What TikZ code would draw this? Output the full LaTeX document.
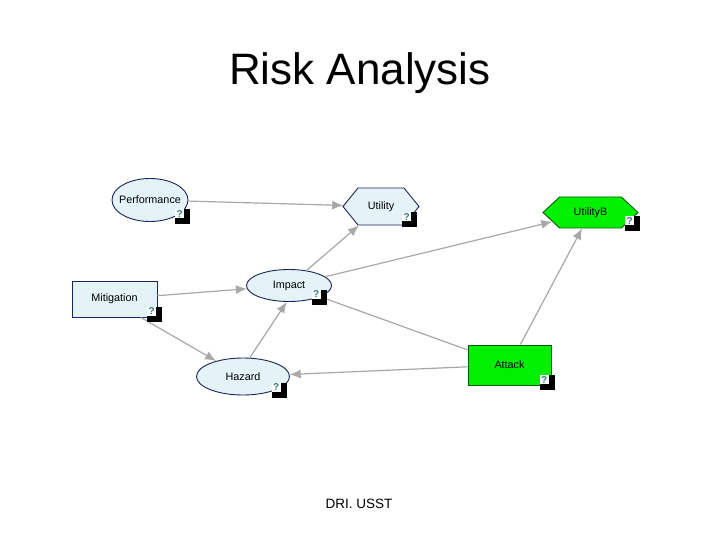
\documentclass[tikz,border=0pt]{standalone}
\usepackage{fontspec}
\setmainfont{Liberation Sans}
\usetikzlibrary{shapes.geometric,shapes.symbols,arrows.meta}
\definecolor{nodefill}{HTML}{E4F3F8}
\definecolor{nodeline}{HTML}{1A2460}
\definecolor{arr}{HTML}{A8A8A8}
\definecolor{grn}{HTML}{00F000}
\definecolor{grnline}{HTML}{0A5A0A}
\definecolor{qcol}{HTML}{2A7A8A}
\newcommand{\lb}[1]{\makebox[0pt][c]{#1}}
\begin{document}
\begin{tikzpicture}[x=1pt,y=-1pt,
  lbl/.style={font=\fontsize{10.8}{12}\selectfont, inner sep=0pt, text=black},
  chance/.style={ellipse, draw=nodeline, fill=nodefill, line width=0.9pt, lbl},
  decision/.style={rectangle, draw=nodeline, fill=nodefill, line width=0.9pt, lbl},
  utilnode/.style={signal, signal to=west and east, signal pointer angle=102, draw=nodeline, fill=nodefill, line width=0.9pt, lbl},
  greenrect/.style={rectangle, draw=grnline, fill=grn, line width=0.9pt, lbl},
  greenutil/.style={signal, signal to=west and east, signal pointer angle=86, draw=grnline, fill=grn, line width=0.9pt, lbl},
  conn/.style={draw=arr, line width=1.2pt, -{Latex[length=11pt,width=9pt]}},
  plainconn/.style={draw=arr, line width=1.2pt},
  qbox/.style={rectangle, fill=black, minimum width=15pt, minimum height=15pt, inner sep=0pt,
    path picture={\fill[white] (path picture bounding box.north west) rectangle ++(9,9);
      \node[font=\fontsize{10}{10}\selectfont\bfseries, text=qcol, inner sep=0pt] at ([shift={(4.6,4.6)}]path picture bounding box.north west) {?};}},
  title/.style={font=\fontsize{44}{50}\selectfont, inner sep=0pt, anchor=base},
  footer/.style={font=\fontsize{13.5}{15}\selectfont, inner sep=0pt, anchor=base}
]
\useasboundingbox[fill=white] (0,0) rectangle (720,540);

\node[title] (ttl) at (360,85) {Risk Analysis};
\node[footer] (ftr) at (359,508) {DRI. USST};

% nodes
\node[chance, minimum width=76pt, minimum height=43pt] (perf) at (150,200) {\lb{Performance}};
\node[utilnode, minimum width=76pt, minimum height=37pt] (util) at (381,206.5) {\lb{Utility}};
\node[greenutil, minimum width=95pt, minimum height=31pt] (utilb) at (590.5,212.5) {\lb{UtilityB}};
\node[decision, minimum width=85pt, minimum height=36pt] (mit) at (114.5,299) {\lb{Mitigation}};
\node[chance, minimum width=85pt, minimum height=32pt] (imp) at (289,285.5) {\lb{Impact}};
\node[chance, minimum width=93pt, minimum height=37pt] (haz) at (243,376.5) {\lb{Hazard}};
\node[greenrect, minimum width=83pt, minimum height=40pt] (att) at (509.5,365) {\lb{Attack}};

% connectors
\draw[conn] (perf) -- (util);
\draw[conn] (imp) -- (util);
\draw[conn] (imp) -- (utilb);
\draw[conn] (mit) -- (imp);
\draw[conn] (mit.-35) -- (haz.150);
\draw[conn] (haz.70) -- (imp.262);
\draw[conn] (att) -- (haz);
\draw[conn] (att) -- (utilb);
\draw[plainconn] (imp) -- (att);

% question boxes
\node[qbox] (qperf) at (182.5,217) {};
\node[qbox] (qutil) at (409.5,219.5) {};
\node[qbox] (qutilb) at (632.5,224) {};
\node[qbox] (qmit) at (154.5,314) {};
\node[qbox] (qimp) at (319,297) {};
\node[qbox] (qhaz) at (279,390) {};
\node[qbox] (qatt) at (547,382.5) {};
\end{tikzpicture}
\end{document}
